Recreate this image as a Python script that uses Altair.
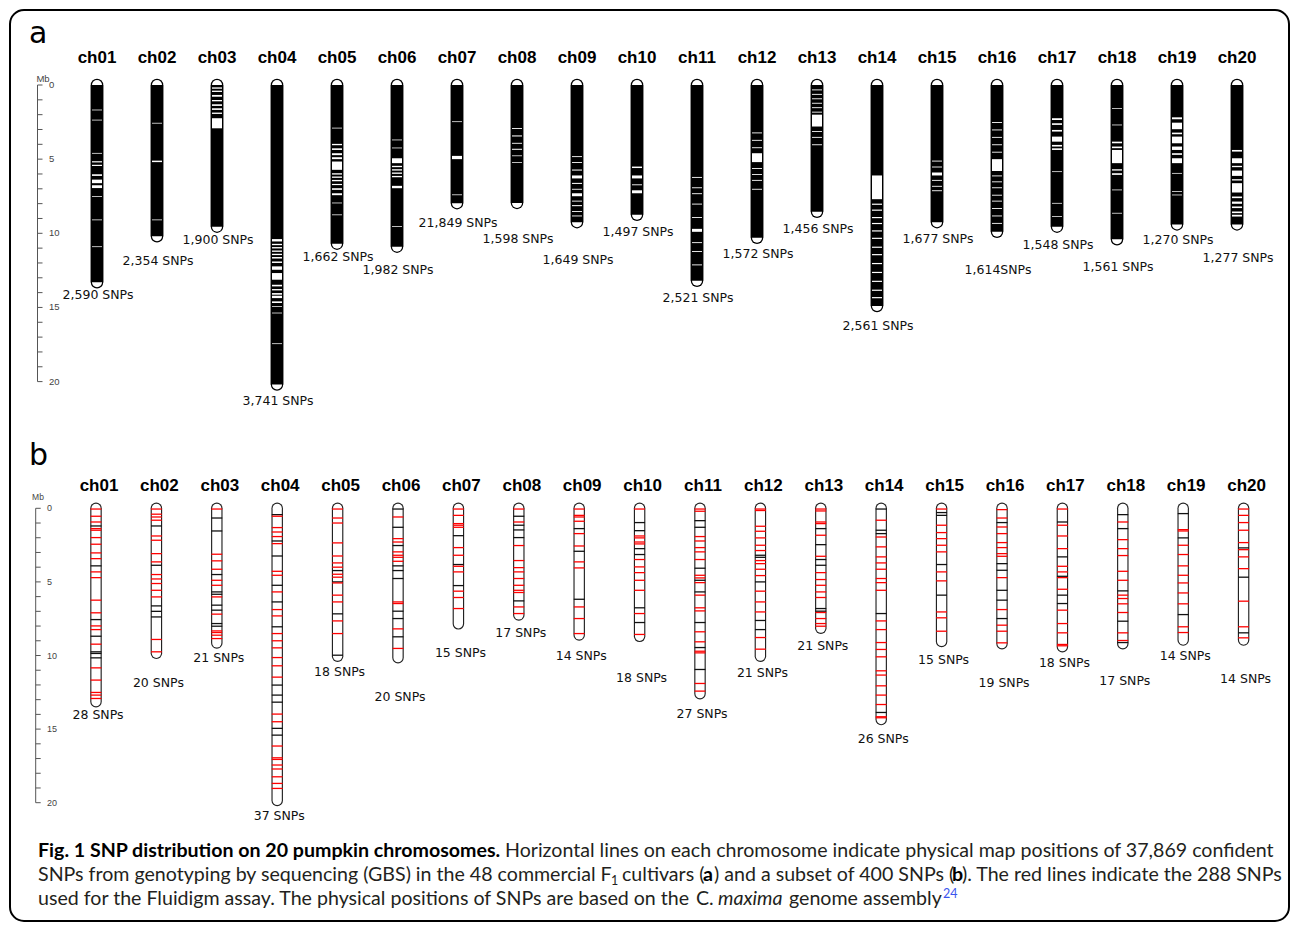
import altair as alt
import pandas as pd

# ---------------------------------------------------------------- data
CHROMS = ["ch01", "ch02", "ch03", "ch04", "ch05", "ch06", "ch07", "ch08", "ch09", "ch10",
          "ch11", "ch12", "ch13", "ch14", "ch15", "ch16", "ch17", "ch18", "ch19", "ch20"]

# (a) GBS markers: chromosome length (Mb) and SNP count text
LEN_A = [13.3, 10.2, 9.55, 20.2, 10.7, 10.9, 7.97, 7.95, 9.25, 8.75,
         13.2, 10.3, 8.55, 14.9, 9.25, 9.9, 9.55, 10.4, 9.4, 9.4]
SNP_TEXT_A = ["2,590 SNPs", "2,354 SNPs", "1,900 SNPs", "3,741 SNPs", "1,662 SNPs",
              "1,982 SNPs", "21,849 SNPs", "1,598 SNPs", "1,649 SNPs", "1,497 SNPs",
              "2,521 SNPs", "1,572 SNPs", "1,456 SNPs", "2,561 SNPs", "1,677 SNPs",
              "1,614SNPs", "1,548 SNPs", "1,561 SNPs", "1,270 SNPs", "1,277 SNPs"]

# stretches without GBS markers (start, end), Mb
GAPS_A = {
    "ch01": [(1.66, 1.71), (2.34, 2.39), (4.58, 4.63), (5.14, 5.22), (5.38, 5.46), (6.02, 6.13),
             (6.38, 6.62), (6.76, 6.95), (7.50, 7.55), (9.07, 9.12), (10.88, 10.93)],
    "ch02": [(2.55, 2.60), (5.10, 5.20), (9.07, 9.12)],
    "ch03": [(0.16, 0.25), (0.38, 0.47), (0.67, 0.79), (1.01, 1.10), (1.30, 1.41), (1.57, 1.68),
             (1.86, 1.95), (2.24, 2.92)],
    "ch04": [(10.39, 10.55), (10.71, 10.80), (10.93, 11.02), (11.16, 11.25), (11.38, 11.47),
             (11.60, 11.70), (11.90, 12.00), (12.23, 12.46), (12.68, 13.13), (13.47, 13.58),
             (13.76, 13.85), (14.03, 14.14), (14.21, 14.37), (14.59, 14.70), (14.92, 14.97),
             (15.35, 15.40), (17.42, 17.47)],
    "ch05": [(2.88, 2.93), (3.97, 4.06), (4.27, 4.38), (4.60, 4.73), (4.87, 5.00), (5.16, 5.72),
             (5.95, 6.04), (6.17, 6.26), (6.40, 6.49), (6.67, 6.75), (6.96, 7.07), (7.30, 7.43),
             (7.93, 7.98), (8.73, 8.78)],
    "ch06": [(3.68, 3.73), (4.22, 4.27), (4.94, 5.27), (5.45, 5.54), (5.68, 5.77), (5.90, 5.99),
             (6.13, 6.22), (6.80, 6.96), (9.52, 9.57)],
    "ch07": [(2.45, 2.50), (4.78, 5.00), (7.38, 7.43)],
    "ch08": [(2.90, 2.96), (3.40, 3.47), (3.90, 3.96), (4.30, 4.37), (4.75, 4.80), (5.20, 5.25)],
    "ch09": [(4.80, 4.86), (5.20, 5.26), (5.70, 5.77), (6.10, 6.30), (6.60, 6.67), (7.00, 7.06),
             (7.30, 7.50), (7.80, 7.86), (8.10, 8.17), (8.50, 8.56), (8.80, 8.86)],
    "ch10": [(5.50, 5.60), (6.10, 6.30), (6.70, 6.76), (7.10, 7.30)],
    "ch11": [(6.20, 6.26), (6.90, 6.96), (7.30, 7.36), (8.00, 8.06), (8.90, 8.96), (9.70, 9.90),
             (10.60, 10.66), (11.20, 11.26), (12.10, 12.16)],
    "ch12": [(3.20, 3.26), (3.70, 3.76), (4.20, 4.26), (4.60, 5.20), (5.60, 5.66), (6.00, 6.06),
             (6.40, 6.46), (7.00, 7.06)],
    "ch13": [(0.30, 0.36), (0.60, 0.66), (0.90, 0.96), (1.20, 1.26), (1.50, 1.56), (1.80, 1.86),
             (2.00, 2.80), (3.10, 3.16), (3.50, 3.56), (4.00, 4.06)],
    "ch14": [(6.10, 7.70), (8.00, 8.08), (8.40, 8.48), (8.90, 8.98), (9.30, 9.38), (9.80, 9.88),
             (10.30, 10.38), (10.90, 10.98), (11.40, 11.48), (12.00, 12.08), (12.60, 12.68),
             (13.20, 13.28), (13.80, 13.88), (14.30, 14.38)],
    "ch15": [(5.10, 5.16), (5.50, 5.56), (5.90, 6.10), (6.40, 6.46), (6.80, 6.86), (7.10, 7.16)],
    "ch16": [(2.50, 2.56), (3.00, 3.06), (3.50, 3.56), (4.00, 4.06), (4.50, 4.56), (5.00, 5.80),
             (6.10, 6.16), (6.50, 6.56), (6.90, 6.96), (7.40, 7.46), (7.80, 7.86), (8.30, 8.36),
             (8.80, 8.86), (9.30, 9.36)],
    "ch17": [(2.24, 2.36), (2.58, 2.69), (3.03, 3.14), (3.48, 3.82), (4.04, 4.15), (4.27, 4.38),
             (5.82, 5.87), (7.95, 8.00), (8.85, 8.90)],
    "ch18": [(1.55, 1.60), (2.67, 2.72), (3.82, 3.93), (4.15, 4.26), (4.38, 5.27), (5.68, 5.77),
             (5.95, 6.06), (7.05, 7.10), (8.62, 8.67)],
    "ch19": [(2.18, 2.31), (2.54, 2.98), (3.21, 3.32), (3.48, 3.93), (4.15, 4.38), (4.60, 4.71),
             (4.94, 5.27), (5.93, 5.98), (7.16, 7.21), (7.39, 7.44)],
    "ch20": [(4.38, 4.49), (4.94, 5.27), (5.45, 5.54), (5.77, 6.13), (6.35, 6.44), (6.62, 7.25),
             (7.52, 7.63), (7.86, 8.01), (8.19, 8.30), (8.53, 8.64), (8.75, 8.87)],
}

# (b) subset of 400 SNPs: span (Mb) and positions (Mb), Fluidigm assay (red) / other (black)
SPAN_B = [13.14, 9.85, 9.15, 19.85, 10.05, 10.15, 7.85, 7.25, 8.6, 8.7,
          12.6, 10.05, 8.15, 14.35, 9.05, 9.2, 9.4, 9.2, 8.95, 8.95]

RED_B = {
    "ch01": [0.05, 0.54, 0.93, 1.38, 1.49, 1.99, 2.44, 3.03, 3.42, 4.32, 4.71, 6.24, 7.10, 7.99,
             8.24, 9.23, 10.84, 11.67, 12.51, 12.69, 12.92],
    "ch02": [0.05, 0.40, 0.59, 0.81, 1.88, 2.17, 3.08, 3.64, 4.50, 4.80, 5.11, 5.57, 6.02, 8.91, 9.75],
    "ch03": [0.05, 3.12, 3.57, 4.14, 4.89, 5.23, 6.02, 7.19, 8.33, 8.44, 8.62, 8.85],
    "ch04": [0.54, 1.31, 1.61, 1.92, 2.40, 4.28, 4.55, 5.68, 6.88, 7.31, 8.51, 9.00, 9.48, 10.14,
             10.70, 11.47, 13.98, 14.50, 16.15, 16.95, 17.06, 17.44, 17.71, 18.24, 18.69, 19.03],
    "ch05": [0.05, 0.66, 1.00, 2.35, 3.24, 3.71, 4.00, 4.48, 4.68, 5.07, 5.90, 6.36, 7.65, 8.51],
    "ch06": [0.59, 2.06, 2.29, 2.96, 3.19, 3.33, 3.60, 6.36, 6.47, 8.19, 9.52],
    "ch07": [0.05, 0.48, 1.04, 1.15, 1.29, 2.67, 3.19, 3.94, 4.32, 5.63, 6.06, 6.81],
    "ch08": [0.05, 0.93, 2.53, 3.55, 4.03, 4.32, 4.77, 5.23, 5.57, 5.72, 6.70, 7.15],
    "ch09": [0.05, 0.48, 0.59, 0.88, 1.72, 2.56, 3.64, 4.05, 6.70, 7.49, 8.51],
    "ch10": [0.05, 1.88, 2.01, 2.29, 2.42, 3.48, 3.98, 4.37, 4.89, 5.57, 7.15, 8.57],
    "ch11": [0.05, 0.20, 1.92, 2.22, 2.67, 2.96, 3.48, 4.55, 4.73, 5.05, 5.90, 6.76, 6.97, 8.39,
             9.07, 9.71, 9.82, 11.90, 12.42],
    "ch12": [0.05, 0.15, 1.22, 1.56, 2.01, 2.51, 2.87, 3.55, 3.76, 4.14, 4.57, 5.63, 6.36, 7.04,
             8.78, 9.57],
    "ch13": [0.05, 0.18, 0.93, 1.04, 1.83, 3.26, 4.37, 4.84, 5.23, 5.68, 6.06, 7.08, 7.49, 7.83, 8.01],
    "ch14": [0.81, 1.95, 2.62, 3.30, 3.71, 4.14, 4.77, 5.05, 5.57, 7.65, 8.24, 9.12, 9.59, 10.09,
             11.04, 11.33, 12.06, 12.69, 13.33, 14.16, 14.23],
    "ch15": [0.05, 1.15, 1.65, 2.06, 2.51, 2.96, 4.32, 4.93, 7.04, 7.44, 8.35],
    "ch16": [0.09, 0.66, 1.27, 1.72, 2.33, 2.67, 3.08, 3.26, 4.71, 6.88, 7.94, 8.35, 9.14],
    "ch17": [0.05, 1.15, 1.88, 2.74, 3.94, 4.32, 4.71, 5.50, 6.92, 7.83, 8.46, 9.25, 9.34],
    "ch18": [0.93, 2.13, 2.74, 3.21, 4.28, 4.89, 5.90, 6.13, 6.49, 7.08, 8.46, 8.98],
    "ch19": [1.45, 1.54, 2.51, 3.14, 3.91, 4.55, 5.07, 5.75, 6.49, 8.05, 8.44],
    "ch20": [0.05, 0.48, 0.97, 1.49, 2.33, 2.81, 3.30, 4.10, 6.31, 8.05, 8.80],
}
BLACK_B = {
    "ch01": [1.20, 3.91, 7.56, 8.69, 9.75, 9.86, 10.16],
    "ch02": [1.20, 3.87, 6.63, 7.00, 7.38],
    "ch03": [0.66, 1.54, 4.50, 5.68, 5.84, 6.58, 6.92, 7.83, 8.01],
    "ch04": [0.43, 2.22, 3.24, 5.23, 6.36, 8.05, 12.01, 12.69, 13.17, 14.95, 15.41],
    "ch05": [4.23, 5.00, 7.17, 9.98],
    "ch06": [0.05, 1.29, 2.53, 3.91, 4.23, 4.77, 6.99, 7.49, 8.73],
    "ch07": [1.86, 3.82, 5.25],
    "ch08": [0.54, 1.15, 1.47, 1.99, 6.29],
    "ch09": [1.38, 2.92, 6.18],
    "ch10": [0.97, 1.52, 2.74, 3.14, 6.76, 7.76],
    "ch11": [0.84, 1.29, 4.07, 4.89, 5.68, 7.76, 9.46, 10.95],
    "ch12": [3.19, 3.33, 5.00, 7.62, 8.24],
    "ch13": [1.38, 2.47, 3.48, 3.87, 6.81, 6.99],
    "ch14": [0.05, 1.49, 1.72, 7.15, 13.87],
    "ch15": [0.29, 0.48, 3.82, 5.90],
    "ch16": [0.97, 3.76, 4.21, 5.57, 6.24, 7.49],
    "ch17": [0.93, 3.30, 4.62, 5.90, 6.47],
    "ch18": [0.43, 1.38, 5.61, 7.67, 9.12],
    "ch19": [0.36, 2.01, 7.22],
    "ch20": [2.69, 4.68, 8.46],
}

RULER_MAX_MB = 20
RULER_LABELS = [0, 5, 10, 15, 20]

# ---------------------------------------------------------------- layout
W = 1292
H_A, H_B, H_C = 440, 390, 95

# pixel placement of chromosome slot 1, slot spacing, Mb 0 and px per Mb
A_X0, A_DX, A_Y0, A_PXMB = 97.0, 60.0, 85.0, 14.83
B_X0, B_DX, B_Y0, B_PXMB = 96.0, 60.4, 68.3, 14.72

# how far (Mb) below each chromosome its count label sits
DROP_A = [0.86, 1.67, 0.90, 1.11, 0.90, 1.57, 1.32, 2.43, 2.55, 1.16,
          1.16, 1.10, 1.16, 1.35, 1.13, 2.57, 1.24, 1.87, 1.05, 2.27]
DROP_B = [0.90, 2.00, 1.02, 1.05, 1.05, 2.65, 1.96, 1.22, 1.41, 2.83,
          1.37, 1.12, 1.20, 1.34, 1.26, 2.65, 1.09, 2.53, 1.06, 2.65]

LABEL_FONT = "DejaVu Sans"
TITLE_FONT = "Liberation Sans"
CAP_FONT = "Lato"
CAP_SIZE = 19.6
TEXT_DARK = "#231f20"


def x_scale(x0, dx):
    return alt.Scale(domain=[1 - x0 / dx, 1 + (W - x0) / dx], nice=False, zero=False)


def y_scale(y0, pxmb, h):
    return alt.Scale(domain=[-y0 / pxmb, (h - y0) / pxmb], nice=False, zero=False, reverse=True)


XS_A, YS_A = x_scale(A_X0, A_DX), y_scale(A_Y0, A_PXMB, H_A)
XS_B, YS_B = x_scale(B_X0, B_DX), y_scale(B_Y0, B_PXMB, H_B)

# ---------------------------------------------------------------- tables
idx = list(range(1, len(CHROMS) + 1))

chrom_a = pd.DataFrame({"idx": idx, "chrom": CHROMS, "start": 0.0, "end": LEN_A,
                        "label": SNP_TEXT_A})
chrom_a["label_mb"] = chrom_a["end"] + pd.Series(DROP_A)

gap_rows = []
for i, c in enumerate(CHROMS, start=1):
    for s, e in GAPS_A[c]:
        gap_rows.append({"idx": i, "start": s, "end": e})
gaps_a = pd.DataFrame(gap_rows)

snp_rows = []
counts_b = []
for i, c in enumerate(CHROMS, start=1):
    for p in BLACK_B[c]:
        snp_rows.append({"idx": i, "pos": p, "kind": "other"})
    for p in RED_B[c]:
        snp_rows.append({"idx": i, "pos": p, "kind": "Fluidigm"})
    counts_b.append(len(RED_B[c]) + len(BLACK_B[c]))
snps_b = pd.DataFrame(snp_rows)

chrom_b = pd.DataFrame({"idx": idx, "chrom": CHROMS, "start": 0.0, "end": SPAN_B,
                        "label": [f"{n} SNPs" for n in counts_b]})
chrom_b["label_mb"] = chrom_b["end"] + pd.Series(DROP_B)

ruler_ticks = pd.DataFrame({"mb": list(range(0, RULER_MAX_MB + 1))})
ruler_line = pd.DataFrame({"start": [0], "end": [RULER_MAX_MB]})
ruler_labels = pd.DataFrame({"mb": RULER_LABELS})
one = pd.DataFrame({"t": ["Mb"]})


def ruler(ys, x_line, x_label, mb_xy, mb_size, lab_size):
    y = lambda f: alt.Y(f"{f}:Q", scale=ys, axis=None)
    line = alt.Chart(ruler_line).mark_rule(color="#555", strokeWidth=1).encode(
        x=alt.value(x_line), y=y("start"), y2="end:Q")
    ticks = alt.Chart(ruler_ticks).mark_rule(color="#555", strokeWidth=1).encode(
        x=alt.value(x_line), x2=alt.value(x_line + 5), y=y("mb"))
    labels = alt.Chart(ruler_labels).mark_text(
        align="left", baseline="middle", font=TITLE_FONT, fontSize=lab_size, color="#444"
    ).encode(x=alt.value(x_label), y=y("mb"), text="mb:Q")
    unit = alt.Chart(one).mark_text(
        align="center", baseline="middle", font=TITLE_FONT, fontSize=mb_size, color="#444"
    ).encode(x=alt.value(mb_xy[0]), y=alt.value(mb_xy[1]), text="t:N")
    return [line, ticks, labels, unit]


def letter(ch, x, y):
    return alt.Chart(pd.DataFrame({"t": [ch]})).mark_text(
        align="left", baseline="alphabetic", font=LABEL_FONT, fontSize=30, color="black"
    ).encode(x=alt.value(x), y=alt.value(y), text="t:N")


# ---------------------------------------------------------------- panel a
xa = alt.X("idx:Q", scale=XS_A, axis=None)
ya = lambda f: alt.Y(f"{f}:Q", scale=YS_A, axis=None)
base_a = alt.Chart(chrom_a)

panel_a = alt.layer(
    base_a.mark_rule(color="black", strokeWidth=12.5, strokeCap="round").encode(
        x=xa, y=ya("start"), y2="end:Q"),
    base_a.mark_rule(color="white", strokeWidth=10, strokeCap="round").encode(
        x=xa, y=ya("start"), y2="end:Q"),
    base_a.mark_rule(color="black", strokeWidth=12.5, strokeCap="butt").encode(
        x=xa, y=ya("start"), y2="end:Q"),
    alt.Chart(gaps_a).mark_rule(color="white", strokeWidth=10, strokeCap="butt").encode(
        x=xa, y=ya("start"), y2="end:Q"),
    base_a.mark_text(font=TITLE_FONT, fontSize=17, fontWeight="bold", baseline="alphabetic",
                     color="black").encode(x=xa, y=alt.value(63), text="chrom:N"),
    base_a.mark_text(font=LABEL_FONT, fontSize=12.5, baseline="middle", dx=1,
                     color="#111").encode(x=xa, y=ya("label_mb"), text="label:N"),
    *ruler(YS_A, 37.5, 49, (43, 78.5), 9.5, 9.5),
    letter("a", 29, 43),
).properties(width=W, height=H_A)

# ---------------------------------------------------------------- panel b
xb = alt.X("idx:Q", scale=XS_B, axis=None)
yb = lambda f: alt.Y(f"{f}:Q", scale=YS_B, axis=None)
base_b = alt.Chart(chrom_b)

snp_lines = alt.Chart(snps_b).transform_calculate(
    xl="datum.idx - 0.09", xr="datum.idx + 0.09"
).mark_rule(strokeWidth=1.3).encode(
    x=alt.X("xl:Q", scale=XS_B, axis=None), x2="xr:Q", y=yb("pos"),
    color=alt.Color("kind:N", scale=alt.Scale(domain=["Fluidigm", "other"],
                                              range=["#ff0000", "#111111"]), legend=None),
)

panel_b = alt.layer(
    base_b.mark_rule(color="#222", strokeWidth=11.5, strokeCap="round").encode(
        x=xb, y=yb("start"), y2="end:Q"),
    base_b.mark_rule(color="white", strokeWidth=9.2, strokeCap="round").encode(
        x=xb, y=yb("start"), y2="end:Q"),
    snp_lines,
    base_b.mark_text(font=TITLE_FONT, fontSize=17, fontWeight="bold", baseline="alphabetic",
                     dx=3, color="black").encode(x=xb, y=alt.value(50.5), text="chrom:N"),
    base_b.mark_text(font=LABEL_FONT, fontSize=12.5, baseline="middle", dx=2,
                     color="#111").encode(x=xb, y=yb("label_mb"), text="label:N"),
    *ruler(YS_B, 35.7, 47, (38, 56.7), 8.5, 9),
    letter("b", 29, 25),
).properties(width=W, height=H_B)

# ---------------------------------------------------------------- caption
L1, L2, L3 = 27, 51, 75
cap_regular = pd.DataFrame([
    ("Horizontal lines on each chromosome indicate physical map positions of 37,869 confident", 505, L1),
    ("SNPs from genotyping by sequencing (GBS) in the 48 commercial F", 38, L2),
    ("cultivars (", 622, L2),
    (") and a subset of 400 SNPs (", 714, L2),
    ("). The red lines indicate the 288 SNPs", 962, L2),
    ("used for the Fluidigm assay. The physical positions of SNPs are based on the", 38, L3),
    ("C.", 696, L3),
    ("genome assembly", 789, L3),
], columns=["text", "x", "y"])
cap_bold = pd.DataFrame([
    ("Fig. 1 SNP distribution on 20 pumpkin chromosomes.", 38, L1),
    ("a", 703, L2),
    ("b", 952, L2),
], columns=["text", "x", "y"])
cap_italic = pd.DataFrame([("maxima", 718, L3)], columns=["text", "x", "y"])
cap_sub = pd.DataFrame([("1", 611, L2 + 4)], columns=["text", "x", "y"])
cap_sup = pd.DataFrame([("24", 943, L3 - 7)], columns=["text", "x", "y"])


def cap_layer(df, **kw):
    style = dict(align="left", baseline="alphabetic", font=CAP_FONT, fontSize=CAP_SIZE,
                 color=TEXT_DARK)
    style.update(kw)
    return alt.Chart(df).mark_text(**style).encode(
        x=alt.X("x:Q", scale=None), y=alt.Y("y:Q", scale=None), text="text:N")


frame = alt.Chart(pd.DataFrame({"k": [0]})).mark_rect(
    fill="transparent", stroke="black", strokeWidth=2, cornerRadius=14
).encode(x=alt.value(10), x2=alt.value(W - 3), y=alt.value(10 - H_A - H_B),
         y2=alt.value(H_C - 4))

caption = alt.layer(
    cap_layer(cap_regular),
    cap_layer(cap_bold, fontWeight="bold", color="black"),
    cap_layer(cap_italic, fontStyle="italic"),
    cap_layer(cap_sub, fontSize=12.5),
    cap_layer(cap_sup, fontSize=12.5, color="#3a55ee"),
    frame,
).properties(width=W, height=H_C)

chart = alt.vconcat(panel_a, panel_b, caption, spacing=0, bounds="flush").resolve_scale(
    x="independent", y="independent"
).properties(padding=0, background="white").configure_view(stroke=None)

chart.save("out.html", embed_options={"renderer": "svg", "actions": False})
